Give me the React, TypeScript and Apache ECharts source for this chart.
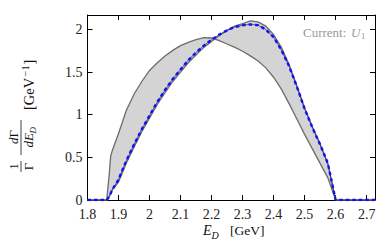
import React, { useEffect, useRef } from 'react';
import * as echarts from 'echarts';

// Energy grid (GeV)
const energies = [1.8, 1.85, 1.862, 1.87, 1.875, 1.88, 1.9, 1.925, 1.95, 1.975, 2.0, 2.025, 2.05, 2.075, 2.1, 2.125, 2.15, 2.175, 2.2, 2.225, 2.25, 2.275, 2.3, 2.325, 2.35, 2.375, 2.4, 2.425, 2.45, 2.475, 2.5, 2.525, 2.55, 2.575, 2.6, 2.65, 2.727];
// Band edge A (higher at low E_D)
const bandEdgeA = [0, 0, 0, 0.30, 0.52, 0.58, 0.78, 1.05, 1.24, 1.39, 1.52, 1.61, 1.69, 1.755, 1.81, 1.85, 1.88, 1.905, 1.90, 1.87, 1.83, 1.79, 1.745, 1.69, 1.63, 1.55, 1.44, 1.30, 1.13, 0.95, 0.77, 0.60, 0.43, 0.26, 0, 0, 0];
// Band edge B (higher at high E_D)
const bandEdgeB = [0, 0, 0, 0.04, 0.08, 0.12, 0.21, 0.43, 0.62, 0.80, 0.96, 1.12, 1.26, 1.39, 1.50, 1.61, 1.70, 1.79, 1.86, 1.93, 1.99, 2.04, 2.07, 2.10, 2.09, 2.04, 1.94, 1.79, 1.59, 1.34, 1.08, 0.86, 0.66, 0.42, 0, 0, 0];
// Central curve (solid + dashed)
const centralCurve = [0, 0, 0, 0.04, 0.08, 0.12, 0.24, 0.46, 0.65, 0.83, 0.99, 1.15, 1.29, 1.42, 1.53, 1.64, 1.73, 1.81, 1.88, 1.94, 1.99, 2.03, 2.05, 2.06, 2.05, 2.00, 1.91, 1.76, 1.57, 1.33, 1.07, 0.85, 0.65, 0.43, 0, 0, 0];

const X_MIN = 1.8, X_MAX = 2.727, X_STEP = 0.1;
const Y_MIN = 0, Y_MAX = 2.17, Y_STEP = 0.5;

const FONT = 'Liberation Serif';

function tickFmt(step: number) {
  return (v: number) => {
    const k = Math.round(v / step);
    const r = Math.round(k * step * 10) / 10;
    return Math.abs(v - k * step) < 1e-6 ? String(r) : '';
  };
}

function txt(x: number, y: number, text: string, size: number, opts: any = {}) {
  const style: any = {
    text, fontSize: size, fontFamily: FONT, fontStyle: opts.italic ? 'italic' : 'normal',
    fill: opts.fill || '#111', textAlign: opts.align || 'left', textVerticalAlign: opts.valign || 'middle',
  };
  if (opts.rich) style.rich = opts.rich;
  return { type: 'text', x, y, style };
}

export default function App() {
  const ref = useRef<HTMLDivElement>(null);
  useEffect(() => {
    const chart = echarts.init(ref.current!, null, { renderer: 'svg' });
    const axisLine = { show: true, onZero: false, lineStyle: { color: '#000', width: 1 } };
    const axisTick = { show: true, inside: true, length: 5, lineStyle: { color: '#000', width: 1 } };
    const central = energies.map((x, i) => [x, centralCurve[i]]);
    const option: any = {
      animation: false,
      textStyle: { fontFamily: FONT },
      grid: { left: 87.5, right: 15, top: 15, bottom: 44, containLabel: false },
      xAxis: [
        {
          type: 'value', position: 'bottom', min: X_MIN, max: X_MAX, interval: X_STEP,
          axisLine, axisTick, splitLine: { show: false },
          axisLabel: { margin: 7, fontSize: 14, color: '#222', fontFamily: FONT, formatter: tickFmt(X_STEP), showMaxLabel: false },
        },
        {
          type: 'value', position: 'top', min: X_MIN, max: X_MAX, interval: X_STEP,
          axisLine, axisTick, splitLine: { show: false }, axisLabel: { show: false },
        },
      ],
      yAxis: [
        {
          type: 'value', position: 'left', min: Y_MIN, max: Y_MAX, interval: Y_STEP,
          axisLine, axisTick, splitLine: { show: false },
          axisLabel: { margin: 5, fontSize: 14, color: '#222', fontFamily: FONT, formatter: tickFmt(Y_STEP), showMaxLabel: false },
        },
        {
          type: 'value', position: 'right', min: Y_MIN, max: Y_MAX, interval: Y_STEP,
          axisLine, axisTick, splitLine: { show: false }, axisLabel: { show: false },
        },
      ],
      series: [
        {
          type: 'custom', xAxisIndex: 0, yAxisIndex: 0, silent: true, z: 1,
          data: [[2.2, 1]],
          renderItem: (_p: any, api: any) => {
            const pts: number[][] = [];
            for (let i = 0; i < energies.length; i++) pts.push(api.coord([energies[i], bandEdgeA[i]]));
            for (let i = energies.length - 1; i >= 0; i--) pts.push(api.coord([energies[i], bandEdgeB[i]]));
            return {
              type: 'polygon',
              shape: { points: pts },
              style: { fill: '#d4d4d4', stroke: '#6c6c6c', lineWidth: 1.3 },
            };
          },
        },
        {
          type: 'line', xAxisIndex: 0, yAxisIndex: 0, data: central, showSymbol: false, z: 2,
          lineStyle: { color: '#303070', width: 0.8, type: 'solid' },
        },
        {
          type: 'line', xAxisIndex: 0, yAxisIndex: 0, data: central, showSymbol: false, z: 3,
          lineStyle: { color: '#1010ff', width: 2.4, type: [3.5, 3] },
        },
      ],
      graphic: [
        // Current label
        txt(303, 32, 'Current:', 13, { fill: '#999' }),
        txt(351, 32, 'U', 13, { fill: '#999', italic: true }),
        txt(361, 36, '1', 9, { fill: '#999' }),
        // x-axis label
        txt(203, 230, 'E', 14, { italic: true }),
        txt(211.5, 235, 'D', 10, { italic: true }),
        txt(230, 230, '[GeV]', 13.5),
        // y-axis label (rotated)
        {
          type: 'group', x: 21, y: 172, rotation: Math.PI / 2,
          children: [
            txt(5.5, -1, '1', 13, { align: 'center', valign: 'bottom' }),
            { type: 'line', shape: { x1: 0, y1: 0, x2: 11, y2: 0 }, style: { stroke: '#111', lineWidth: 0.8 } },
            txt(5.5, 1, 'Γ', 13, { align: 'center', valign: 'top' }),
            txt(35, -1, '{i|d}Γ', 13, {
              align: 'center', valign: 'bottom',
              rich: { i: { fontStyle: 'italic', fontSize: 13, fontFamily: FONT, fill: '#111' } },
            }),
            { type: 'line', shape: { x1: 17, y1: 0, x2: 52, y2: 0 }, style: { stroke: '#111', lineWidth: 0.8 } },
            txt(24.5, 1, 'dE', 13, { italic: true, valign: 'top' }),
            txt(38.5, 7, 'D', 9, { italic: true, valign: 'top' }),
            txt(62, 8, '[GeV', 14.5),
            txt(95.5, 4, '−1', 10.5),
            txt(107.5, 8, ']', 14.5),
          ],
        },
      ],
    };
    chart.setOption(option);
    return () => chart.dispose();
  }, []);
  return <div ref={ref} style={{ position: 'absolute', left: 0, top: 0, width: 390, height: 244 }} />;
}
